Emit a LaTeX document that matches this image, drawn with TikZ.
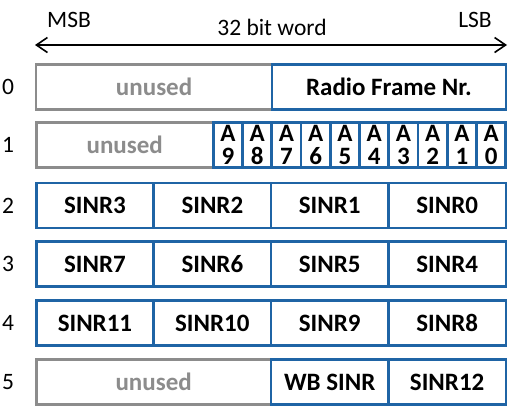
\documentclass[tikz,border=0pt]{standalone}
\usepackage{fontspec}
\setmainfont{Carlito}
\usepackage{tikz}
\usepackage{xcolor}
\usetikzlibrary{arrows.meta}

\definecolor{fieldblue}{RGB}{31,100,165}
\definecolor{unusedgray}{RGB}{140,140,140}

\tikzset{
  field/.style={draw=fieldblue, line width=2.5pt, fill=white, minimum height=45pt, inner sep=0pt, font=\fontsize{25}{25}\selectfont\bfseries},
  unusedfield/.style={draw=unusedgray, line width=2.5pt, fill=white, minimum height=45pt, inner sep=0pt, text=unusedgray, font=\fontsize{25}{25}\selectfont\bfseries},
  bitfield/.style={field, minimum width=29.25pt, align=center, font=\fontsize{25}{23}\selectfont\bfseries}
}

\begin{document}
\begin{tikzpicture}[x=1pt, y=-1pt, font=\fontsize{23.5}{23.5}\selectfont]
					\useasboundingbox (0,0) rectangle (510,408);
					
					% header
					\coordinate (msbend) at (35,45);
					\coordinate (lsbend) at (507,45);
					\draw[{Straight Barb[length=11pt, width=15pt]}-{Straight Barb[length=11pt, width=15pt]}, line width=1.6pt] (msbend) -- (lsbend);
					\node (msb) at (69,20) {MSB};
					\node (lsb) at (475,20) {LSB};
					\node (word) at (272,27) {32 bit word};
					
					% row labels
					\node (l0) at (8,87) {0};
					\node (l1) at (8,145) {1};
					\node (l2) at (8,205.5) {2};
					\node (l3) at (8,264) {3};
					\node (l4) at (8,323) {4};
					\node (l5) at (8,382) {5};
					
					% word 0
					\node[unusedfield, minimum width=235.75pt] (r0unused) at (154.1,87) {unused};
					\node[field, minimum width=233.75pt] (frame) at (388.9,87) {Radio Frame Nr.};
					
					% word 1
					\node[unusedfield, minimum width=177pt] (r1unused) at (124.75,145) {unused};
					\node[bitfield] (a9) at (227.9,145) {A\\9};
					\node[bitfield] (a8) at (257.1,145) {A\\8};
					\node[bitfield] (a7) at (286.4,145) {A\\7};
					\node[bitfield] (a6) at (315.6,145) {A\\6};
					\node[bitfield] (a5) at (344.9,145) {A\\5};
					\node[bitfield] (a4) at (374.1,145) {A\\4};
					\node[bitfield] (a3) at (403.4,145) {A\\3};
					\node[bitfield] (a2) at (432.6,145) {A\\2};
					\node[bitfield] (a1) at (461.9,145) {A\\1};
					\node[bitfield] (a0) at (491.1,145) {A\\0};
					
					% word 2
					\node[field, minimum width=117.4pt] (sinr3) at (94.95,205.5) {SINR3};
					\node[field, minimum width=117.4pt] (sinr2) at (212.35,205.5) {SINR2};
					\node[field, minimum width=117.4pt] (sinr1) at (329.75,205.5) {SINR1};
					\node[field, minimum width=117.4pt] (sinr0) at (447.15,205.5) {SINR0};
					
					% word 3
					\node[field, minimum width=117.4pt] (sinr7) at (94.95,264) {SINR7};
					\node[field, minimum width=117.4pt] (sinr6) at (212.35,264) {SINR6};
					\node[field, minimum width=117.4pt] (sinr5) at (329.75,264) {SINR5};
					\node[field, minimum width=117.4pt] (sinr4) at (447.15,264) {SINR4};
					
					% word 4
					\node[field, minimum width=117.4pt] (sinr11) at (94.95,323) {SINR11};
					\node[field, minimum width=117.4pt] (sinr10) at (212.35,323) {SINR10};
					\node[field, minimum width=117.4pt] (sinr9) at (329.75,323) {SINR9};
					\node[field, minimum width=117.4pt] (sinr8) at (447.15,323) {SINR8};
					
					% word 5
					\node[unusedfield, minimum width=234.8pt] (r5unused) at (153.65,382) {unused};
					\node[field, minimum width=117.4pt] (wbsinr) at (329.75,382) {WB SINR};
					\node[field, minimum width=117.4pt] (sinr12) at (447.15,382) {SINR12};
				\end{tikzpicture}
\end{document}
